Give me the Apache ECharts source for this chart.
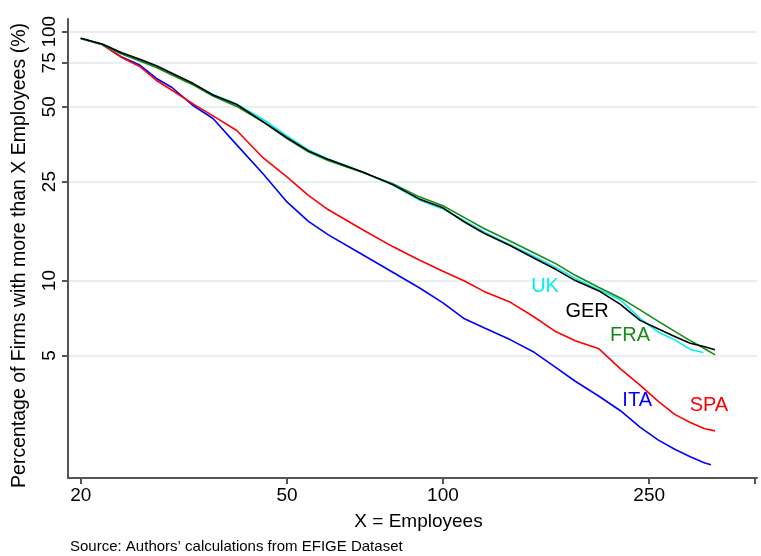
<!DOCTYPE html>
<html><head><meta charset="utf-8">
<script src="https://cdn.jsdelivr.net/npm/echarts@6/dist/echarts.min.js"></script>
<style>html,body{margin:0;padding:0;background:#fff}#c{width:761px;height:556px}</style>
</head><body><div id="c"></div>
<script>
// Employees thresholds (x) and share of firms with more than X employees (%)
const employees = [20,22,24,26,28,30,33,36,40,45,50,55,60,70,80,90,100,110,120,135,150,165,180,200,220,240,260,280,300,320];
const ita = [93.9,88.8,79.1,73.5,64.9,59.7,50.4,44.8,35.1,26.8,20.7,17.3,15.3,12.7,10.8,9.36,8.14,7.02,6.46,5.78,5.15,4.48,3.94,3.43,3.00,2.58,2.29,2.10,1.96,1.85];
const spa = [93.9,88.8,78.8,72.5,63.7,58.2,51.2,45.9,40.1,31.1,26.1,22.0,19.3,16.0,13.7,12.1,10.9,9.97,9.05,8.18,7.14,6.24,5.73,5.32,4.42,3.80,3.28,2.90,2.69,2.54];
const uk  = [93.9,88.8,81.4,77.0,72.2,67.3,61.4,55.9,51.2,44.4,38.1,33.5,30.8,27.3,24.2,21.1,19.4,17.4,15.7,13.9,12.5,11.3,10.2,9.18,8.37,7.05,6.22,5.78,5.29,null];
const fra = [94.1,88.8,81.4,76.3,71.8,67.0,61.1,55.2,50.1,43.4,37.2,32.9,30.4,27.2,24.5,21.7,20.0,17.9,16.2,14.4,12.9,11.7,10.5,9.38,8.52,7.63,6.87,6.25,5.74,5.32];
const ger = [94.1,89.2,82.4,77.6,73.0,68.1,61.9,55.7,51.0,43.4,37.5,33.2,30.7,27.3,24.3,21.3,19.6,17.2,15.5,13.8,12.3,11.1,10.0,9.09,8.03,6.92,6.40,5.96,5.60,5.42];
// last observation of each country [employees, %]
const itaEnd = [329, 1.82];
const spaEnd = [335, 2.49];
const ukEnd  = [318, 5.14];
const fraEnd = [335, 5.03];
const gerEnd = [335, 5.27];

const countries = ['ITA','SPA','UK','FRA','GER'];
const seriesValues = [ita, spa, uk, fra, ger];
const seriesEnds = [itaEnd, spaEnd, ukEnd, fraEnd, gerEnd];
const colors = ['#0000ff','#ff0000','#00eef2','#168a16','#000000'];

// label anchors (data coordinates)
const labelEmployees = [237, 326, 157.4, 229.6, 189.7];
const labelPercent   = [3.29, 3.14, 9.43, 6.0, 7.49];

const xTicks = [20,50,100,250,400];
const xTickLabels = [20,50,100,250];
const yTicks = [5,10,25,50,75,100];

const FONT = '"Liberation Sans", Arial, Helvetica, sans-serif';

const series = countries.map((c, i) => {
  const pts = employees.map((x, j) => [x, seriesValues[i][j]]).filter(p => p[1] != null);
  pts.push(seriesEnds[i]);
  return {
    name: c, type: 'line', data: pts, showSymbol: false, symbol: 'none',
    lineStyle: {color: colors[i], width: 1.6, opacity: 1}, itemStyle: {color: colors[i]},
    z: 2 + i, silent: true, animation: false
  };
});
series.push({
  type: 'scatter', symbolSize: 0, silent: true, animation: false, z: 20,
  itemStyle: {opacity: 1},
  data: countries.map((c, i) => ({
    value: [labelEmployees[i], labelPercent[i]],
    itemStyle: {opacity: 1, color: colors[i]},
    label: {show: true, position: 'inside', formatter: c, color: colors[i], opacity: 1, fontSize: 20, fontFamily: FONT}
  }))
});

const chart = echarts.init(document.getElementById('c'), null, {renderer: 'canvas'});
chart.setOption({
  animation: false,
  backgroundColor: '#ffffff',
  textStyle: {fontFamily: FONT},
  title: {
    text: 'Source: Authors\u2019 calculations from EFIGE Dataset',
    left: 70, top: 539, padding: 0,
    textStyle: {fontSize: 15, fontWeight: 'normal', color: '#000', fontFamily: FONT}
  },
  grid: {left: 68, right: 4, top: 19, bottom: 78, containLabel: false},
  xAxis: {
    type: 'log', logBase: 10, min: 18.9, max: 403.6,
    axisLine: {show: true, lineStyle: {color: '#555', width: 2}},
    axisTick: {show: true, customValues: xTicks, length: 6, lineStyle: {color: '#555', width: 2}},
    axisLabel: {customValues: xTickLabels, fontSize: 19, color: '#000', margin: 8, fontFamily: FONT},
    splitLine: {show: false}, minorTick: {show: false},
    name: 'X = Employees', nameLocation: 'middle', nameGap: 34,
    nameTextStyle: {fontSize: 19, color: '#000', fontFamily: FONT, padding: [0, 0, 0, 12]}
  },
  yAxis: {
    type: 'log', logBase: 10, min: 1.61, max: 112.5,
    axisLine: {show: true, lineStyle: {color: '#555', width: 2}},
    axisTick: {show: true, customValues: yTicks, length: 6, lineStyle: {color: '#555', width: 2}},
    axisLabel: {customValues: yTicks, rotate: 90, fontSize: 19, color: '#000', margin: 9, fontFamily: FONT},
    splitLine: {show: true, lineStyle: {color: '#e8eff2', width: 2}},
    name: 'Percentage of Firms with more than X Employees (%)', nameLocation: 'middle', nameGap: 38,
    nameTextStyle: {fontSize: 19.5, color: '#000', fontFamily: FONT, padding: [0, 14, 0, 0]}
  },
  series: series
});
</script></body></html>
